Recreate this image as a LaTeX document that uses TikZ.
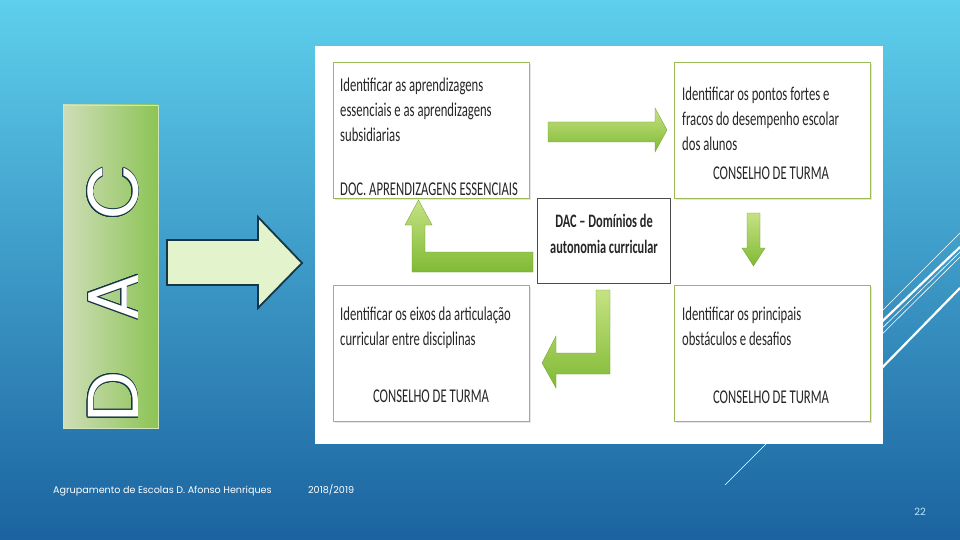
\documentclass[tikz,border=0pt]{standalone}
\usepackage{fontspec}
\setmainfont{Carlito}
\newfontfamily\boxfont[FakeStretch=0.65]{Carlito}
\newfontfamily\letterfont{Poppins}
\newfontfamily\footfont{Poppins}
\usepackage[copies]{contour}
\contourlength{0.8pt}
\usetikzlibrary{calc, positioning}
\usetikzlibrary{shadows}

\definecolor{skytop}{HTML}{5ECFEC}
\definecolor{skymid}{HTML}{3497C9}
\definecolor{skybot}{HTML}{1B63A0}
\definecolor{barlight}{HTML}{CFDDB8}
\definecolor{bargreen}{HTML}{8CC455}
\definecolor{bigarrow}{HTML}{E3F3CB}
\definecolor{inkdark}{HTML}{173545}
\definecolor{boxline}{HTML}{9BBB59}
\definecolor{arrowlight}{HTML}{C6E284}
\definecolor{arrowdark}{HTML}{80BA34}
\definecolor{pagenum}{HTML}{B5EAF7}

\tikzset{
  stepbox/.style={draw=boxline, line width=1pt, fill=white, anchor=north west,
    minimum width=196pt, minimum height=136pt, inner sep=0pt,
    drop shadow={opacity=0.2, shadow xshift=1.5pt, shadow yshift=-1.5pt}},
  steptext/.style={font=\boxfont\fontsize{19.5}{25}\selectfont, align=left,
    inner sep=0pt, anchor=north west, text=black!85},
  steplabel/.style={font=\boxfont\fontsize{19.5}{25}\selectfont, inner sep=0pt,
    text=black!85},
  greenarrow/.style={top color=arrowlight, bottom color=arrowdark,
    draw=arrowdark!85!black, line width=0.3pt},
  dacletter/.style={font=\letterfont\fontsize{72}{72}\selectfont, text=white,
    rotate=90, anchor=base, inner sep=0pt},
  footer/.style={font=\footfont\fontsize{9.6}{11}\selectfont, text=white,
    anchor=base west, inner sep=0pt}
}

\begin{document}
\begin{tikzpicture}[x=1pt, y=-1pt]
\useasboundingbox (0,0) rectangle (960,540);

% Background and decorative lines
\shade[top color=skytop, middle color=skymid, bottom color=skybot] (0,0) rectangle (960,540);
\draw[white, line width=0.6pt] (870,323) -- (960,233);
\draw[white, line width=2.2pt] (870,333) -- (960,247);
\draw[white, line width=0.6pt] (870,340) -- (960,252);
\draw[white, line width=0.6pt] (870,346) -- (960,257);
\draw[white, line width=2.2pt] (870,380) -- (960,288);
\draw[white, line width=0.6pt] (725,485) -- (790,420);

% Green bar with the letters
\shade[left color=barlight, right color=bargreen, draw=white!60!bargreen, line width=0.6pt]
  (63,105) rectangle (158,428);
\node[dacletter] (letterD) at (138,397) {\contour{inkdark}{D}};
\node[dacletter] (letterA) at (138,297) {\contour{inkdark}{A}};
\node[dacletter] (letterC) at (138,192) {\contour{inkdark}{C}};

% Big arrow towards the panel
\draw[fill=bigarrow, draw=inkdark, line width=1.8pt, line join=miter]
  (167,240) -- (258,240) -- (258,217) -- (302,263) -- (258,308)
  -- (258,285) -- (167,285) -- cycle;

% Panel and the four steps
\fill[white] (315,46) rectangle (883,444);
\node[stepbox] (essenciais) at (333,62) {};
\node[stepbox] (pontos) at (674,62) {};
\node[stepbox] (eixos) at (333,285) {};
\node[stepbox] (obstaculos) at (674,285) {};
\node[draw=black!70, line width=0.7pt, fill=white, minimum width=133pt,
  minimum height=85pt, inner sep=0pt] (dac) at (603.5,240.5) {};

\node[steptext] (essenciais-txt) at (340,78)
  {Identificar as aprendizagens\\essenciais e as aprendizagens\\subsidiarias};
\node[steplabel, anchor=base west] (essenciais-lbl) at (340,195) {DOC. APRENDIZAGENS ESSENCIAIS};
\node[steptext] (pontos-txt) at (682,87)
  {Identificar os pontos fortes e\\fracos do desempenho escolar\\dos alunos};
\node[steplabel, anchor=base] (pontos-lbl) at (771,179) {CONSELHO DE TURMA};
\node[steptext] (eixos-txt) at (340,307)
  {Identificar os eixos da articulação\\curricular entre disciplinas};
\node[steplabel, anchor=base] (eixos-lbl) at (431,402) {CONSELHO DE TURMA};
\node[steptext] (obstaculos-txt) at (682,307)
  {Identificar os principais\\obstáculos e desafios};
\node[steplabel, anchor=base] (obstaculos-lbl) at (771,403) {CONSELHO DE TURMA};
\node[steplabel, font=\boxfont\bfseries\fontsize{19}{26}\selectfont, align=center]
  (dac-txt) at (604,234) {DAC – Domínios de\\autonomia curricular};

% Green arrows between the steps
\draw[greenarrow] (548,122) -- (655,122) -- (655,108) -- (667,130)
  -- (655,152) -- (655,142) -- (548,142) -- cycle;
\draw[greenarrow] (747,213) -- (760,213) -- (760,248) -- (765,248)
  -- (753.5,266) -- (742,248) -- (747,248) -- cycle;
\draw[greenarrow] (596,290) -- (610,290) -- (610,374) -- (556,374) -- (556,388)
  -- (542,363) -- (556,336) -- (556,353) -- (596,353) -- cycle;
\draw[greenarrow] (533,252) -- (533,272) -- (412,272) -- (412,225) -- (405,225)
  -- (418.5,200) -- (432,225) -- (425,225) -- (425,252) -- cycle;

% Footer
\node[footer] (school) at (53,493) {Agrupamento de Escolas D. Afonso Henriques};
\node[footer] (year) at (308,493) {2018/2019};
\node[footer, anchor=base, text=pagenum, font=\footfont\fontsize{10}{12}\selectfont]
  (page) at (920,515) {22};
\end{tikzpicture}
\end{document}
